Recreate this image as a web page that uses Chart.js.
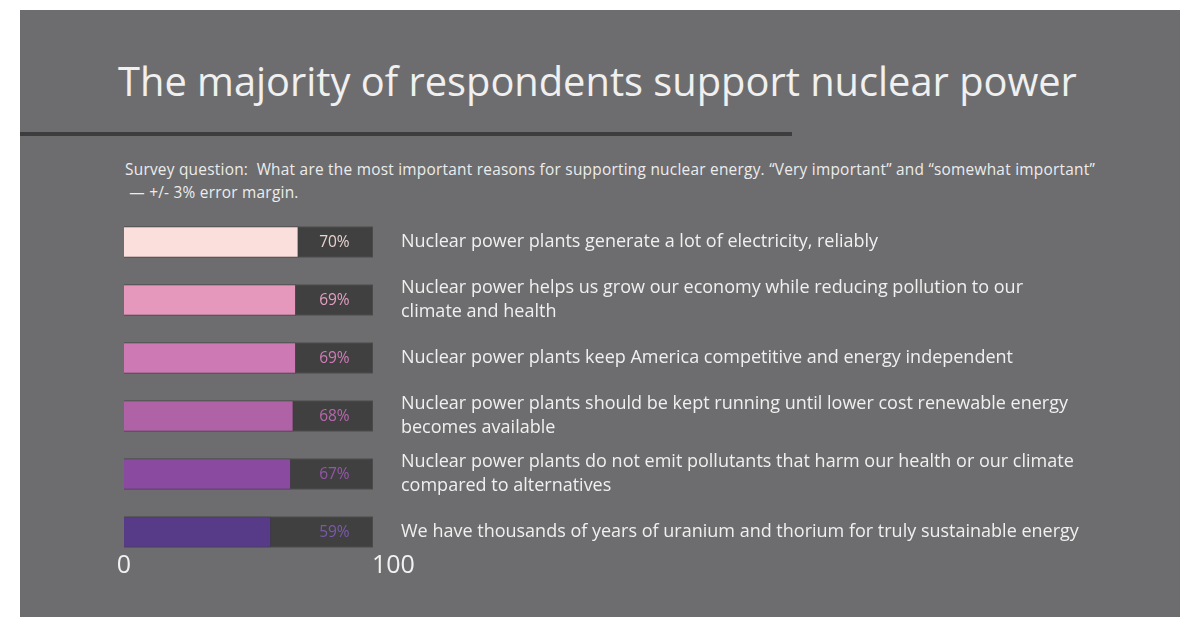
<!DOCTYPE html>
<html>
<head>
<meta charset="utf-8">
<script src="https://cdn.jsdelivr.net/npm/chart.js@4"></script>
<style>
  html, body { margin: 0; padding: 0; background: #ffffff; }
  body { width: 1200px; height: 627px; position: relative; overflow: hidden; font-family: "Open Sans", sans-serif; }
  #panel { position: absolute; left: 20px; top: 10px; width: 1160px; height: 607px; background: #6d6d6f; }
  #title { position: absolute; left: 0; width: 1195px; top: 61px; text-align: center; font-size: 39.8px; line-height: 40px; color: #f0f0f0; white-space: nowrap; }
  #rule { position: absolute; left: 20px; top: 132px; width: 772px; height: 4px; background: #3d3d3e; }
  #sub { position: absolute; left: 125px; top: 158px; font-size: 15.4px; letter-spacing: 0.25px; line-height: 23px; color: #ececec; white-space: nowrap; }
  #c { position: absolute; left: 0; top: 0; }
</style>
</head>
<body>
<div id="panel"></div>
<div id="title">The majority of respondents support nuclear power</div>
<div id="rule"></div>
<div id="sub">Survey question:&nbsp; What are the most important reasons for supporting nuclear energy. “Very important” and “somewhat important”<br>&nbsp;— +/- 3% error margin.</div>
<canvas id="c" width="1200" height="627"></canvas>
<script>
// données
const reasons = [
  "Nuclear power plants generate a lot of electricity, reliably",
  ["Nuclear power helps us grow our economy while reducing pollution to our", "climate and health"],
  "Nuclear power plants keep America competitive and energy independent",
  ["Nuclear power plants should be kept running until lower cost renewable energy", "becomes available"],
  ["Nuclear power plants do not emit pollutants that harm our health or our climate", "compared to alternatives"],
  "We have thousands of years of uranium and thorium for truly sustainable energy"
];
const support = [70, 69, 69, 68, 67, 59];
const scaleMax = [100, 100, 100, 100, 100, 100];
const axisTicks = [0, 100];

const barColors = ["#fbdfdc", "#e597bc", "#cd79b3", "#b062a6", "#8a4a9f", "#573b88"];
const labelColors = ["#e8d2ce", "#e39fc2", "#cf7db6", "#b767ac", "#9357a8", "#7a5aa8"];

// étiquettes de valeur dans la zone sombre
const valueLabels = {
  id: "valueLabels",
  afterDatasetsDraw(chart) {
    const ctx = chart.ctx;
    const x = chart.scales.x.getPixelForValue(84.5);
    ctx.save();
    ctx.font = "15.5px 'Open Sans'";
    ctx.textAlign = "center";
    ctx.textBaseline = "middle";
    chart.getDatasetMeta(0).data.forEach((bar, i) => {
      ctx.fillStyle = labelColors[i];
      ctx.fillText(support[i] + "%", x, bar.y + 1);
    });
    ctx.restore();
  }
};

// graduations 0 et 100 sous les barres
const bottomTicks = {
  id: "bottomTicks",
  afterDraw(chart) {
    const ctx = chart.ctx;
    const xs = chart.scales.x;
    ctx.save();
    ctx.font = "25px 'Open Sans'";
    ctx.fillStyle = "#f2f2f2";
    ctx.textBaseline = "middle";
    axisTicks.forEach((t, i) => {
      ctx.textAlign = i === 0 ? "center" : "left";
      ctx.fillText(String(t), xs.getPixelForValue(t) - (i === 0 ? 0 : 1), 566);
    });
    ctx.restore();
  }
};

new Chart(document.getElementById("c"), {
  type: "bar",
  data: {
    labels: reasons,
    datasets: [
      {
        data: support,
        backgroundColor: barColors,
        borderColor: "rgba(0,0,0,0.08)",
        borderWidth: 1,
        barThickness: 31,
        grouped: false
      },
      {
        data: scaleMax,
        backgroundColor: "#404041",
        borderColor: "#505051",
        borderWidth: 1,
        barThickness: 31,
        grouped: false
      }
    ]
  },
  options: {
    indexAxis: "y",
    responsive: false,
    animation: false,
    devicePixelRatio: 1,
    layout: { padding: { top: 213, bottom: 66, left: 124, right: 0 } },
    plugins: { legend: { display: false }, tooltip: { enabled: false } },
    scales: {
      x: { min: 0, max: 100, display: false },
      y: { display: false },
      y2: {
        type: "category",
        position: "right",
        grid: { display: false, drawTicks: false },
        border: { display: false },
        ticks: {
          autoSkip: false,
          padding: 28,
          crossAlign: "near",
          color: "#f0f0f0",
          font: { family: "'Open Sans'", size: 18, lineHeight: 1.33 }
        },
        afterFit(scale) { scale.width = 827; }
      }
    }
  },
  plugins: [valueLabels, bottomTicks]
});
</script>
</body>
</html>
